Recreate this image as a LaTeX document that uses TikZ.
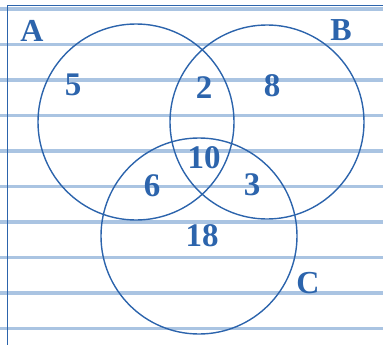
\documentclass[tikz,border=0pt]{standalone}
\usepackage{fontspec}
\usepackage{xcolor}
\usepackage{tikz}
\newfontfamily\vennfont{Liberation Serif}
\definecolor{ink}{HTML}{2C64AC}
\definecolor{rule}{HTML}{AAC4E2}
\tikzset{
  venn/.style={draw=ink,line width=1.4pt,circle,inner sep=0pt},
  setlbl/.style={text=ink,font=\vennfont\fontsize{32}{36}\selectfont\bfseries,inner sep=0pt},
  cnt/.style={text=ink,font=\vennfont\fontsize{33}{36}\selectfont\bfseries,inner sep=0pt},
  ruled/.style={rule,line width=3.2pt},
  margin/.style={ink,line width=1.8pt},
}

\begin{document}
\begin{tikzpicture}[x=1pt,y=-1pt]
\useasboundingbox (0,0) rectangle (383,345);
% paper
\foreach \yy in {9,44.5,80,115.5,151,186.5,222,257.5,293,328.5}
  \draw[ruled] (0,\yy) -- (383,\yy);
\coordinate (tl) at (7.5,5.5);
\coordinate (tr) at (383,5.5);
\coordinate (bl) at (7.5,345);
\draw[margin] (tr) -- (tl) -- (bl);
% sets
\node[venn,minimum size=196pt] (setA) at (136,122) {};
\node[venn,minimum size=194pt] (setB) at (267,122) {};
\node[venn,minimum size=196pt] (setC) at (199,236) {};
\node[setlbl] (lblA) at (32,31) {A};
\node[setlbl] (lblB) at (341,30) {B};
\node[setlbl] (lblC) at (308,283) {C};
% counts
\node[cnt] (onlyA) at (73,85) {5};
\node[cnt] (onlyB) at (272,86) {8};
\node[cnt] (onlyC) at (202,236) {18};
\node[cnt] (ab) at (204,88) {2};
\node[cnt] (abc) at (204,158) {10};
\node[cnt] (ac) at (152,186) {6};
\node[cnt] (bc) at (252,185) {3};
\end{tikzpicture}
\end{document}
